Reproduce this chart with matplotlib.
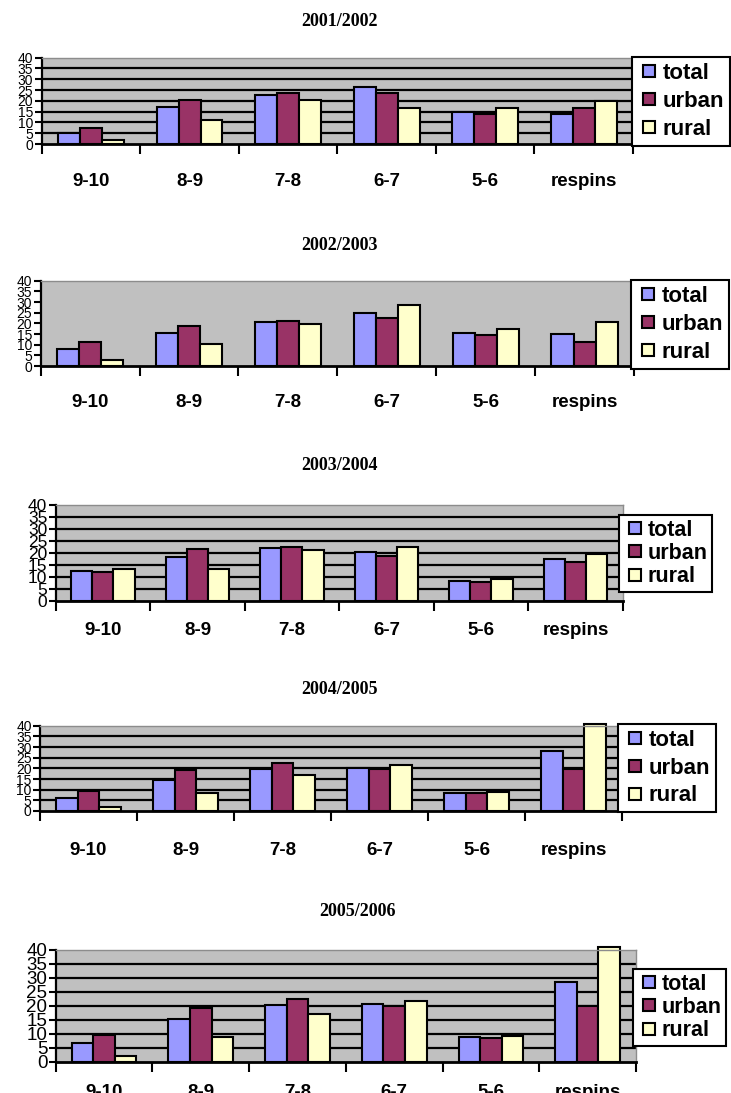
import numpy as np
import matplotlib
matplotlib.use("Agg")
import matplotlib.pyplot as plt
from matplotlib.lines import Line2D

categories = ["9-10", "8-9", "7-8", "6-7", "5-6", "respins"]
series_names = ["total", "urban", "rural"]
years = ["2001/2002", "2002/2003", "2003/2004", "2004/2005", "2005/2006"]

total_2001 = [5.2, 17.0, 22.5, 26.2, 14.7, 13.8]
urban_2001 = [7.5, 20.6, 23.7, 23.7, 14.0, 16.7]
rural_2001 = [1.8, 11.2, 20.6, 16.7, 16.7, 19.8]

total_2002 = [8.0, 15.3, 20.6, 24.8, 15.6, 14.8]
urban_2002 = [11.1, 18.6, 21.1, 22.7, 14.4, 11.1]
rural_2002 = [2.8, 10.2, 19.7, 28.6, 17.3, 20.6]

total_2003 = [12.4, 18.2, 22.0, 20.2, 8.1, 17.4]
urban_2003 = [11.8, 21.6, 22.5, 18.8, 7.9, 16.0]
rural_2003 = [13.4, 13.2, 21.0, 22.5, 9.0, 19.4]

total_2004 = [6.3, 14.7, 19.8, 20.0, 8.6, 28.3]
urban_2004 = [9.5, 19.0, 22.5, 19.5, 8.3, 19.7]
rural_2004 = [1.7, 8.4, 16.9, 21.4, 9.0, 40.8]

total_2005 = [6.5, 15.2, 20.3, 20.5, 8.7, 28.4]
urban_2005 = [9.5, 19.2, 22.4, 19.9, 8.4, 20.0]
rural_2005 = [1.9, 8.6, 17.1, 21.6, 9.2, 41.0]

y_ticks = [0, 5, 10, 15, 20, 25, 30, 35, 40]

data = [
    (total_2001, urban_2001, rural_2001),
    (total_2002, urban_2002, rural_2002),
    (total_2003, urban_2003, rural_2003),
    (total_2004, urban_2004, rural_2004),
    (total_2005, urban_2005, rural_2005),
]

colors = ["#9999FF", "#993366", "#FFFFCC"]
BG = "#C0C0C0"

W, H = 731, 1093
fig = plt.figure(figsize=(W / 100, H / 100), dpi=100)

# layout in pixels
layout = [
    dict(ax=(41.7, 633, 57.7, 144), leg=(632, 57), title=(339, 22), yfs=10, grid=True,
         lfs=16, ls=0.32, bp=0.27, lpad=21),
    dict(ax=(40.7, 634, 280.7, 366), leg=(631, 280), title=(339, 245), yfs=10, grid=False,
         lfs=16, ls=0.32, bp=0.27, lpad=20),
    dict(ax=(55.7, 622.7, 505, 600.7), leg=(619, 515), title=(339, 465), yfs=12.5, grid=True,
         lfs=15.5, ls=0.1, bp=0.22, lpad=15),
    dict(ax=(40, 622, 725.7, 811), leg=(618, 724), title=(339, 690), yfs=10, grid=True,
         lfs=16, ls=0.3, bp=0.27, lpad=22),
    dict(ax=(55.7, 636, 949.5, 1061.5), leg=(633, 969), title=(358, 912), yfs=13.5, grid=True,
         lfs=15.5, ls=0.1, bp=0.22, lpad=16),
]

x = np.arange(len(categories))
bw = 0.223

for (vals, year, spec) in zip(data, years, layout):
    L, R, T, B = spec["ax"]
    ax = fig.add_axes([L / W, 1 - B / H, (R - L) / W, (B - T) / H])
    ax.set_facecolor(BG)
    ax.set_xlim(-0.5, len(categories) - 0.5)
    ax.set_ylim(0, 40)
    if spec["grid"]:
        for yv in y_ticks[1:-1]:
            ax.axhline(yv, color="black", lw=1.6, zorder=0.5)
    for i, (v, c) in enumerate(zip(vals, colors)):
        ax.bar(x + (i - 1) * bw, v, width=bw, color=c, edgecolor="black",
               linewidth=1.5, zorder=2, clip_on=False)
    for s in ["top", "right"]:
        ax.spines[s].set_color("#8c8c8c")
        ax.spines[s].set_linewidth(1.0)
    ax.spines["left"].set_linewidth(1.6)
    ax.spines["bottom"].set_linewidth(2.0)
    ax.spines["bottom"].set_zorder(3)
    ax.set_yticks(y_ticks)
    ax.set_yticklabels([str(t) for t in y_ticks], fontsize=spec["yfs"],
                       family="Liberation Sans")
    ax.tick_params(axis="y", direction="out", length=5, width=1.5, pad=1)
    ax.set_xticks(np.arange(-0.5, len(categories), 1.0))
    ax.set_xticklabels([])
    ax.tick_params(axis="x", which="major", direction="out", length=7, width=1.5)
    ax.set_xticks(x, minor=True)
    ax.set_xticklabels(categories, minor=True, fontsize=13.5,
                       family="Liberation Sans", fontweight="bold")
    ax.tick_params(axis="x", which="minor", length=0, pad=spec["lpad"])

    tx, ty = spec["title"]
    fig.text(tx / W, 1 - ty / H, year, ha="center", va="center",
             fontsize=13, family="Liberation Serif", fontweight="bold")

    handles = [Line2D([], [], linestyle="None", marker="s", markersize=8.5,
                      markerfacecolor=c, markeredgecolor="black", markeredgewidth=1.5)
               for c in colors]
    lx, ly = spec["leg"]
    leg = fig.legend(handles, series_names, loc="upper left",
                     bbox_to_anchor=(lx / W, 1 - ly / H),
                     bbox_transform=fig.transFigure, borderaxespad=0,
                     prop=dict(family="Liberation Sans", weight="bold", size=spec["lfs"]),
                     handlelength=1.0, handletextpad=0.1,
                     labelspacing=spec["ls"], borderpad=spec["bp"], fancybox=False,
                     framealpha=1, edgecolor="black")
    leg.get_frame().set_linewidth(1.5)

fig.savefig("out.png", dpi=100)
